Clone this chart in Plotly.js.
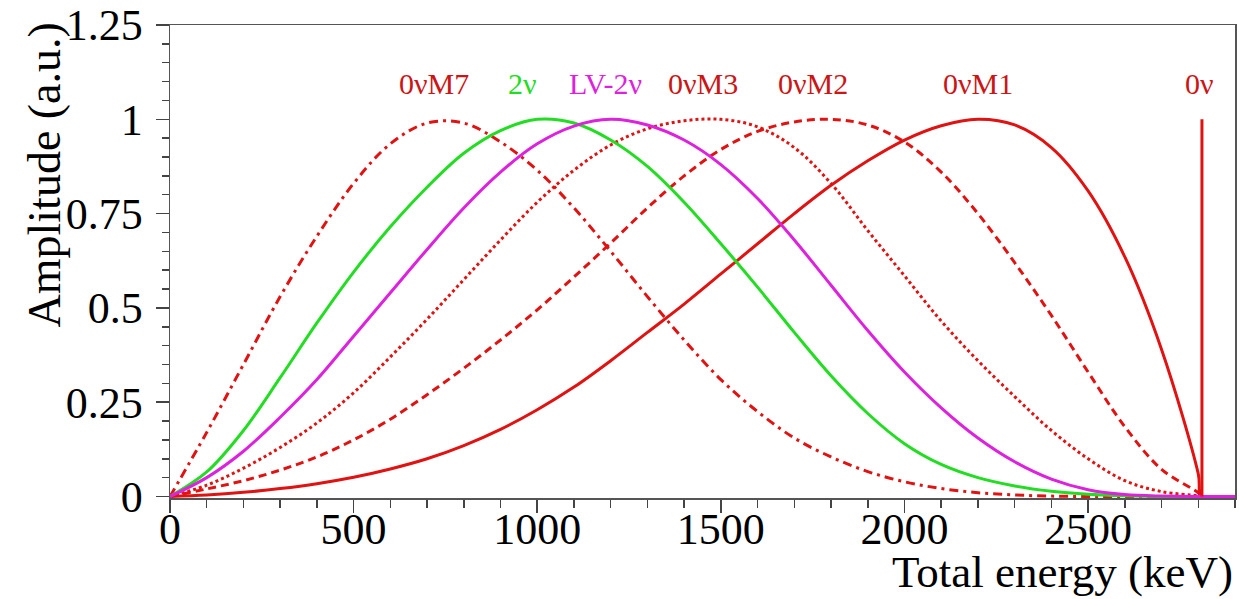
<!DOCTYPE html>
<html>
<head>
<meta charset="utf-8">
<script src="https://cdn.plot.ly/plotly-3.0.1.min.js"></script>
<style>
html,body{margin:0;padding:0;background:#fff;}
#chart{width:1239px;height:599px;}
</style>
</head>
<body>
<div id="chart"></div>
<script>
// Total energy grid (keV)
const energy = [0,100,200,300,400,500,600,700,800,900,1000,1100,1200,1300,1400,1500,1600,1700,1800,1900,2000,2100,2200,2300,2400,2500,2600,2700,2800,2810,2900];

// Normalised spectra (a.u.)
const twoNu    = [0,0.065,0.175,0.315,0.46,0.595,0.715,0.82,0.91,0.97,1.0,0.99,0.945,0.875,0.78,0.67,0.555,0.435,0.32,0.22,0.14,0.085,0.05,0.028,0.014,0.006,0.002,0,0,0,0];
const lv2Nu    = [0,0.05,0.12,0.21,0.31,0.425,0.54,0.655,0.765,0.86,0.935,0.982,1.0,0.985,0.945,0.88,0.79,0.68,0.56,0.44,0.33,0.235,0.155,0.092,0.046,0.018,0.005,0.001,0,0,0];
const zeroNuM7 = [0,0.17,0.35,0.53,0.69,0.83,0.935,0.99,0.99,0.94,0.865,0.765,0.65,0.53,0.415,0.31,0.225,0.155,0.105,0.066,0.039,0.021,0.01,0.004,0.001,0,0,0,0,0,0];
const zeroNuM3 = [0,0.03,0.075,0.13,0.195,0.275,0.37,0.47,0.575,0.68,0.78,0.865,0.932,0.975,0.996,1.0,0.98,0.925,0.83,0.705,0.585,0.465,0.36,0.265,0.175,0.1,0.042,0.013,0.002,0,0];
const zeroNuM2 = [0,0.02,0.042,0.07,0.105,0.15,0.205,0.27,0.34,0.415,0.495,0.582,0.672,0.765,0.85,0.92,0.968,0.993,1.0,0.985,0.94,0.86,0.75,0.62,0.48,0.33,0.185,0.072,0.01,0,0];
const zeroNuM1 = [0,0.004,0.011,0.021,0.034,0.051,0.073,0.1,0.135,0.178,0.23,0.29,0.36,0.435,0.51,0.59,0.67,0.75,0.825,0.89,0.945,0.983,1.0,0.985,0.925,0.81,0.635,0.39,0.06,0,0];

// 0v line at the Q value
const qValue = 2810;
const zeroNuX = [qValue, qValue];
const zeroNuY = [0, 1];

// Labels
const labelTexts = ['0νM7','2ν','LV-2ν','0νM3','0νM2','0νM1','0ν'];
const labelEnergy = [720, 960, 1187, 1450, 1752, 2199, 2803];

const RED = '#e01212';
const LRED = '#cc1616';
const GREEN = '#22dd22';
const MAG = '#dd22dd';
const SERIF = 'Liberation Serif, Times New Roman, serif';

const sp = {shape:'spline', smoothing:1};

const traces = [
  {x:energy, y:zeroNuM7, mode:'lines', line:Object.assign({color:RED, width:3, dash:'9px,5px,3px,5px'}, sp)},
  {x:energy, y:zeroNuM3, mode:'lines', line:Object.assign({color:RED, width:3, dash:'3px,3px'}, sp)},
  {x:energy, y:zeroNuM2, mode:'lines', line:Object.assign({color:RED, width:3, dash:'8px,5px'}, sp)},
  {x:energy, y:zeroNuM1, mode:'lines', line:Object.assign({color:RED, width:3}, sp)},
  {x:energy, y:twoNu, mode:'lines', line:Object.assign({color:GREEN, width:3}, sp)},
  {x:energy, y:lv2Nu, mode:'lines', line:Object.assign({color:MAG, width:3}, sp)},
  {x:zeroNuX, y:zeroNuY, mode:'lines', line:{color:RED, width:3}}
];

const labelColors = [LRED, GREEN, MAG, LRED, LRED, LRED, LRED];
const annotations = labelTexts.map((t,i)=>({
  x: labelEnergy[i], y: 1.094, xref:'x', yref:'y', text:t, showarrow:false,
  xanchor:'center', yanchor:'middle',
  font:{family:SERIF, size:30, color:labelColors[i]}
}));
annotations.push({
  xref:'paper', yref:'paper', x:1, y:-0.157, xanchor:'right', yanchor:'middle',
  text:'Total energy (keV)', showarrow:false,
  font:{family:SERIF, size:45, color:'#000'}
});
annotations.push({
  xref:'paper', yref:'paper', x:-0.1174, y:1.0106, xanchor:'center', yanchor:'top',
  text:'Amplitude (a.u.)', textangle:-90, showarrow:false,
  font:{family:SERIF, size:46, color:'#000'}
});

const layout = {
  width:1239, height:599,
  margin:{l:170, r:4, t:25, b:101},
  paper_bgcolor:'#fff', plot_bgcolor:'#fff',
  showlegend:false,
  font:{family:SERIF, size:44, color:'#000'},
  xaxis:{
    range:[0,2900], showgrid:false, zeroline:false,
    showline:true, linecolor:'#555', linewidth:1.5, mirror:true,
    ticks:'outside', ticklen:13, tickwidth:1.5, tickcolor:'#444',
    tick0:0, dtick:500,
    minor:{dtick:100, ticks:'outside', ticklen:8, tickwidth:1.5, tickcolor:'#444', showgrid:false},
    tickfont:{size:44, family:SERIF},
    ticklabelstandoff:-21
  },
  yaxis:{
    range:[-0.004,1.25], showgrid:false, zeroline:false,
    showline:true, linecolor:'#555', linewidth:1.5, mirror:true,
    ticks:'outside', ticklen:13, tickwidth:1.5, tickcolor:'#444',
    tickvals:[0,0.25,0.5,0.75,1,1.25], ticktext:['0','0.25','0.5','0.75','1','1.25'],
    minor:{tick0:0, dtick:0.05, ticks:'outside', ticklen:7, tickwidth:1.5, tickcolor:'#444', showgrid:false},
    tickfont:{size:44, family:SERIF},
    ticklabelstandoff:4
  },
  annotations:annotations
};

Plotly.newPlot('chart', traces, layout, {displayModeBar:false, staticPlot:true});
</script>
</body>
</html>
